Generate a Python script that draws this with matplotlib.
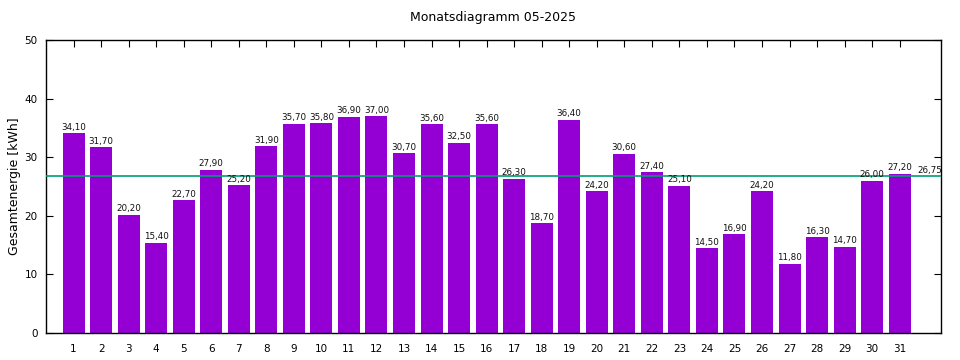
import matplotlib
matplotlib.use("Agg")
import matplotlib.pyplot as plt

days = list(range(1, 32))
values = [34.1, 31.7, 20.2, 15.4, 22.7, 27.9, 25.2, 31.9, 35.7, 35.8, 36.9, 37.0,
          30.7, 35.6, 32.5, 35.6, 26.3, 18.7, 36.4, 24.2, 30.6, 27.4, 25.1, 14.5,
          16.9, 24.2, 11.8, 16.3, 14.7, 26.0, 27.2]
average = 26.75
title = "Monatsdiagramm 05-2025"
ylabel = "Gesamtenergie [kWh]"

def de(v):
    return f"{v:.2f}".replace(".", ",")

fig = plt.figure(figsize=(9.6, 3.6), dpi=100)
ax = fig.add_axes([46/960, 1-333/360, (941-46)/960, (333-40)/360])

ax.bar(days, values, width=0.8, color="#9400D3", zorder=2)
for d, v in zip(days, values):
    ax.text(d, v + 0.25, de(v), ha="center", va="bottom", fontsize=6.3, color="#111111", zorder=4)

ax.axhline(average, color="#009E73", lw=1.2, zorder=3)
ax.text(32.1, average + 0.25, de(average), ha="center", va="bottom", fontsize=6.3, color="#111111")

ax.set_xlim(0, 32.5)
ax.set_ylim(0, 50)
ax.set_xticks(days)
ax.set_yticks([0, 10, 20, 30, 40, 50])
ax.tick_params(direction="in", top=True, right=True, length=5, labelsize=7.5, width=0.8)
ax.tick_params(axis="x", pad=8)
ax.tick_params(axis="y", pad=6)
for s in ax.spines.values():
    s.set_linewidth(1)
ax.set_ylabel(ylabel, fontsize=9)
ax.yaxis.set_label_coords(-0.028, 0.5)
fig.text(493/960, 1-18/360, title, ha="center", va="center", fontsize=9)

fig.savefig("out.png", dpi=100)
